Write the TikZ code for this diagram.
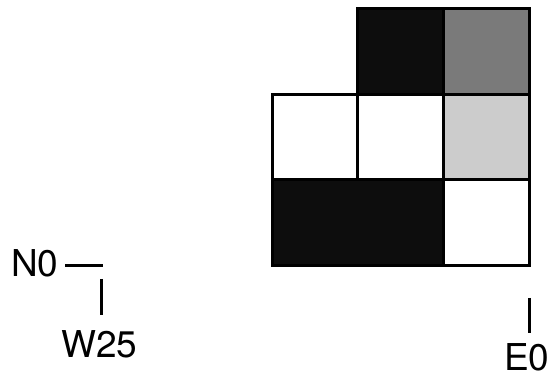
\documentclass[tikz,border=0pt]{standalone}
\usepackage{fontspec}
\setmainfont{TeX Gyre Heros}
\begin{document}
\begin{tikzpicture}[x=1pt,y=1pt,
  cell/.style={draw=black,line width=3pt,line join=miter},
  lbl/.style={inner sep=0pt,font=\fontsize{37}{40}\selectfont,anchor=base west},
  tick/.style={line width=3pt}]
\useasboundingbox (0,0) rectangle (555,379);
\fill[white] (0,0) rectangle (555,379);
% grid: columns x = 272,357,443,529 ; rows y(img) = 9,95,180,266 -> tikz 370,284,199,113
\filldraw[cell,fill=black!95] (357,370) rectangle (443,284);
\filldraw[cell,fill=black!52] (443,370) rectangle (529,284);
\filldraw[cell,fill=white] (272,284) rectangle (357,199);
\filldraw[cell,fill=white] (357,284) rectangle (443,199);
\filldraw[cell,fill=black!20] (443,284) rectangle (529,199);
\filldraw[cell,fill=black!95] (272,199) rectangle (443,113);
\filldraw[cell,fill=white] (443,199) rectangle (529,113);
% labels
\node[lbl] (n0) at (11,102) {N0};
\node[lbl] (w25) at (61,21) {W25};
\node[lbl] (e0) at (504,8) {E0};
\coordinate (d1) at (65,113);
\coordinate (d2) at (103,113);
\coordinate (t1) at (101,100);
\coordinate (t2) at (101,64);
\coordinate (e1) at (529,81);
\coordinate (e2) at (529,46);
\draw[tick] (d1) -- (d2);
\draw[tick] (t1) -- (t2);
\draw[tick] (e1) -- (e2);
\end{tikzpicture}
\end{document}
